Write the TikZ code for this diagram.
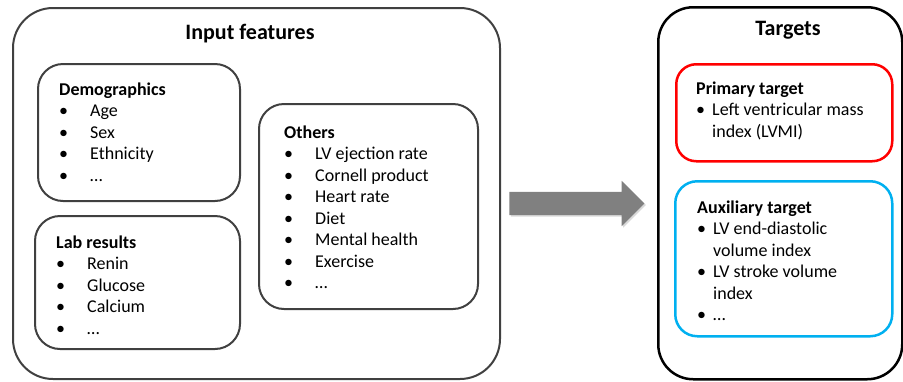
\documentclass[tikz,border=0pt]{standalone}
\usepackage{fontspec}
\setmainfont{Carlito}
\usetikzlibrary{positioning,shapes.arrows,shadows}
\definecolor{boxgray}{HTML}{404040}
\definecolor{arrowgray}{HTML}{808080}
\definecolor{auxblue}{HTML}{00B0F0}
\newcommand{\featitem}[1]{\makebox[31pt][l]{•}#1}
\newcommand{\targitem}[1]{\makebox[16pt][l]{•}#1}

\begin{document}
\begin{tikzpicture}[
  x=1pt, y=-1pt,
  outerbox/.style={draw,rounded corners=40pt,line width=2pt,anchor=north west,inner sep=0},
  groupbox/.style={draw=boxgray,rounded corners=25pt,line width=2pt,anchor=north west,inner sep=0},
  listtext/.style={anchor=north west,inner sep=0,align=left,font=\fontsize{18}{21.5}\selectfont},
  boxtitle/.style={anchor=base,font=\fontsize{22}{26}\selectfont\bfseries}
]
\useasboundingbox (0,0) rectangle (903,381);
% input side
\node[outerbox,draw=boxgray,minimum width=487pt,minimum height=371pt] (input) at (12,7) {};
\node[boxtitle] (inputtitle) at (250,39) {Input features};
\node[groupbox,minimum width=202pt,minimum height=137pt] (demo) at (37,63) {};
\node[groupbox,minimum width=205pt,minimum height=133pt] (lab) at (34,215) {};
\node[groupbox,minimum width=219pt,minimum height=205pt] (others) at (258,103) {};
\node[listtext] (demotext) at (59,80) {\strut\textbf{Demographics}\\
  \featitem{Age}\\ \featitem{Sex}\\ \featitem{Ethnicity}\\ \featitem{…}};
\node[listtext] (labtext) at (56,233) {\strut\textbf{Lab results}\\
  \featitem{Renin}\\ \featitem{Glucose}\\ \featitem{Calcium}\\ \featitem{…}};
\node[listtext] (otherstext) at (284,123) {\strut\textbf{Others}\\
  \featitem{LV ejection rate}\\ \featitem{Cornell product}\\ \featitem{Heart rate}\\
  \featitem{Diet}\\ \featitem{Mental health}\\ \featitem{Exercise}\\ \featitem{…}};
% arrow
\node[single arrow,fill=arrowgray,minimum height=135pt,minimum width=45pt,
  single arrow head extend=11pt,inner xsep=0,inner ysep=11.5pt,
  drop shadow={shadow xshift=1.5pt,shadow yshift=-1.5pt,opacity=0.3}] (go) at (571,203.5) {};
% target side
\node[outerbox,draw=black,line width=2.5pt,rounded corners=35pt,minimum width=244pt,minimum height=372pt] (targets) at (657,6) {};
\node[boxtitle] (targetstitle) at (788,35) {Targets};
\node[groupbox,draw=red,line width=2.5pt,rounded corners=20pt,minimum width=216pt,minimum height=97pt] (primary) at (675,63) {};
\node[groupbox,draw=auxblue,line width=2.5pt,rounded corners=22pt,minimum width=217pt,minimum height=155pt] (auxiliary) at (674,180) {};
\node[listtext] (primarytext) at (696,79) {\strut\textbf{Primary target}\\
  \targitem{Left ventricular mass}\\ \hspace*{16pt}index (LVMI)};
\node[listtext] (auxiliarytext) at (697,198) {\strut\textbf{Auxiliary target}\\
  \targitem{LV end-diastolic}\\ \hspace*{16pt}volume index\\
  \targitem{LV stroke volume}\\ \hspace*{16pt}index\\ \targitem{…}};
\end{tikzpicture}
\end{document}
